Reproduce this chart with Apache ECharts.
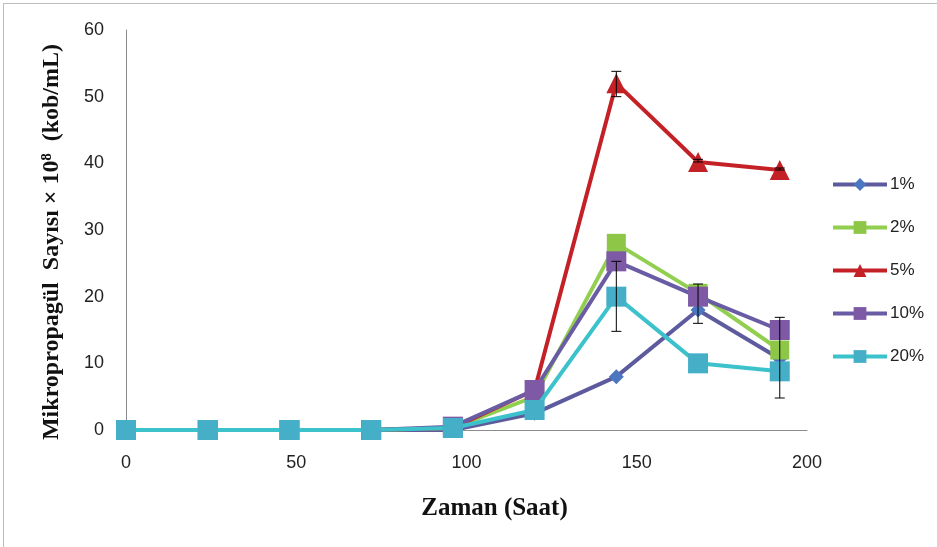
<!DOCTYPE html>
<html><head><meta charset="utf-8">
<script src="https://cdn.jsdelivr.net/npm/echarts@6/dist/echarts.min.js"></script>
<style>html,body{margin:0;padding:0;background:#fff}#wrap{position:absolute;left:3px;top:3px;width:940px;height:560px;border:1px solid #bdbdbd;box-sizing:border-box}#c{position:absolute;left:0;top:0;width:937px;height:547px}</style>
</head><body><div id="wrap"></div><div id="c"></div>
<script>
const hours = [0, 24, 48, 72, 96, 120, 144, 168, 192];
const names = ['1%', '2%', '5%', '10%', '20%'];
const s1 = [0, 0, 0, 0, 0, 2.5, 8, 18, 10.7];
const s2 = [0, 0, 0, 0, 0.3, 5, 28, 20.5, 12];
const s5 = [0, 0, 0, 0, 0.3, 6, 52, 40.2, 39];
const s10 = [0, 0, 0, 0, 0.5, 6, 25.3, 20, 15];
const s20 = [0, 0, 0, 0, 0.3, 3, 20, 10, 8.8];
// error bars: [hour, low, high]
const err5 = [[144, 50, 53.8], [168, 40.2, 40.6], [192, 39, 39.3]];
const err10 = [[144, 14.8, 25.3], [168, 16, 21.9], [192, 4.8, 16.9]];

const ser = [s1, s2, s5, s10, s20];
const lineColors = ['#5E5A9E', '#92CF50', '#C42127', '#6A5CA4', '#3CC2CB'];
const markColors = ['#4A77C0', '#8EC748', '#C42127', '#7E5AA6', '#45AFC8'];
const symbols = ['diamond', 'rect', 'triangle', 'rect', 'rect'];
const sizes = [15, 19, 20, 20, 20];

const chart = echarts.init(document.getElementById('c'));
const series = ser.map((d, i) => ({
  name: names[i], type: 'line', data: hours.map((h, j) => [h, d[j]]),
  symbol: symbols[i], symbolSize: sizes[i], showAllSymbol: true,
  lineStyle: {color: lineColors[i], width: 4},
  itemStyle: {color: markColors[i]}, z: 2 + i
}));
function errSeries(data) {
  return {
    type: 'custom', data: data, z: 10, silent: true,
    renderItem: function (params, api) {
      const x = api.value(0);
      const lo = api.coord([x, api.value(1)]);
      const hi = api.coord([x, api.value(2)]);
      const w = 5;
      const st = {stroke: '#000', lineWidth: 1};
      return {type: 'group', children: [
        {type: 'line', shape: {x1: lo[0], y1: lo[1], x2: hi[0], y2: hi[1]}, style: st},
        {type: 'line', shape: {x1: lo[0]-w, y1: lo[1], x2: lo[0]+w, y2: lo[1]}, style: st},
        {type: 'line', shape: {x1: hi[0]-w, y1: hi[1], x2: hi[0]+w, y2: hi[1]}, style: st}
      ]};
    }
  };
}
series.push(errSeries(err5));
series.push(errSeries(err10));

chart.setOption({
  animation: false,
  grid: {left: 126, right: 130, top: 30, bottom: 117, containLabel: false},
  legend: {
    orient: 'vertical', left: 826, top: 171, itemGap: 26,
    itemWidth: 54, itemHeight: 16, data: names,
    lineStyle: {width: 4},
    textStyle: {fontFamily: 'Liberation Sans', fontSize: 17, color: '#222', padding: [0, 0, 0, -2]}
  },
  xAxis: {
    type: 'value', min: 0, max: 200, interval: 50,
    name: 'Zaman (Saat)', nameLocation: 'middle', nameGap: 66,
    nameTextStyle: {fontFamily: 'Liberation Serif', fontWeight: 'bold', fontSize: 25, color: '#111', padding: [0, 0, 0, 56]},
    axisLine: {show: true, lineStyle: {color: '#8c8c8c', width: 1}},
    axisTick: {show: false}, splitLine: {show: false},
    axisLabel: {margin: 24, fontFamily: 'Liberation Sans Narrow, Liberation Sans', fontSize: 18, color: '#222'}
  },
  yAxis: {
    type: 'value', min: 0, max: 60, interval: 10,
    name: 'Mikropropagül  Sayısı × 10⁸  (kob/mL)', nameLocation: 'middle', nameGap: 62, nameRotate: 90,
    nameTextStyle: {fontFamily: 'Liberation Serif', fontWeight: 'bold', fontSize: 24, color: '#111', padding: [0, 24, 0, 0]},
    axisLine: {show: true, lineStyle: {color: '#8c8c8c', width: 1}},
    axisTick: {show: false}, splitLine: {show: false},
    axisLabel: {margin: 22, fontFamily: 'Liberation Sans Narrow, Liberation Sans', fontSize: 18, color: '#222'}
  },
  series: series
});
</script>
</body></html>
